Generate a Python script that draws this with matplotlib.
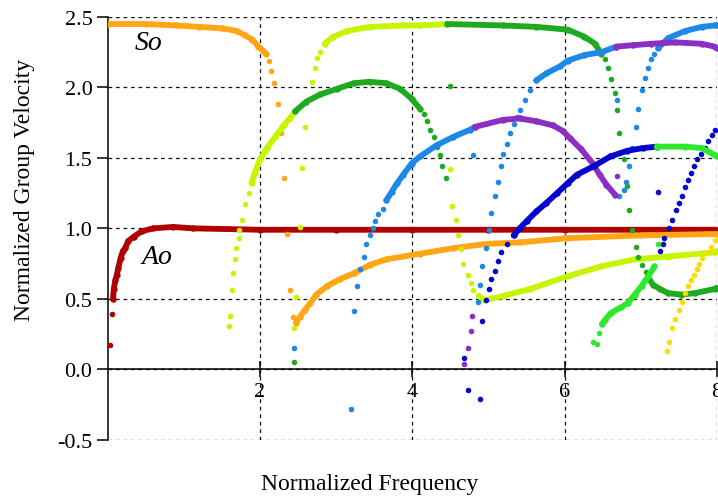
import matplotlib
matplotlib.use("Agg")
import matplotlib.pyplot as plt

plt.rcParams['font.family'] = ['Liberation Serif', 'DejaVu Serif']

# ---------------- data ----------------
# colours
C_RED = "#B00000"
C_ORANGE = "#FFA614"
C_YG = "#C6F500"
C_GREEN = "#1FA91F"
C_BLUE = "#1E88E8"
C_PURPLE = "#8A2EC4"
C_DBLUE = "#0505CC"
C_BGREEN = "#2EE82E"
C_YELLOW = "#FFDC00"

# A0 (dark red)
red_sparse_x = [0.03, 0.05, 0.07]
red_sparse_y = [0.17, 0.39, 0.50]
red_x = [0.07, 0.08, 0.10, 0.12, 0.14, 0.17, 0.20, 0.23, 0.27, 0.34, 0.45, 0.60, 0.86, 1.12, 2.0, 3.0, 4.0, 5.0, 6.0, 7.0, 8.0]
red_y = [0.50, 0.57, 0.63, 0.67, 0.72, 0.79, 0.84, 0.86, 0.91, 0.94, 0.98, 1.00, 1.01, 1.00, 0.99, 0.99, 0.99, 0.99, 0.99, 0.99, 0.99]

# S0 (orange)
orange_top_x = [0.0, 0.5, 0.9, 1.2, 1.5, 1.7, 1.8, 1.9, 1.98, 2.04, 2.08]
orange_top_y = [2.45, 2.45, 2.44, 2.43, 2.42, 2.40, 2.37, 2.34, 2.29, 2.26, 2.24]
orange_drop_x = [2.12, 2.15, 2.18, 2.24, 2.28, 2.31, 2.35, 2.39, 2.43]
orange_drop_y = [2.19, 2.12, 2.03, 1.88, 1.68, 1.36, 0.96, 0.56, 0.37]
orange_low_x = [2.47, 2.52, 2.59, 2.66, 2.74, 2.88, 3.05, 3.23, 3.44, 3.66, 4.10, 4.54, 4.98, 5.41, 6.03, 7.0, 8.0]
orange_low_y = [0.33, 0.37, 0.42, 0.47, 0.53, 0.59, 0.64, 0.68, 0.74, 0.78, 0.82, 0.86, 0.89, 0.90, 0.93, 0.95, 0.96]

# yellow-green
yg_rise_x = [1.59, 1.61, 1.63, 1.64, 1.67, 1.69, 1.72, 1.73, 1.76, 1.80, 1.85, 1.89]
yg_rise_y = [0.31, 0.38, 0.56, 0.68, 0.78, 0.86, 0.93, 0.99, 1.06, 1.17, 1.25, 1.32]
yg_rise_dense_x = [1.89, 1.93, 2.00, 2.07, 2.09, 2.20, 2.31, 2.39, 2.46]
yg_rise_dense_y = [1.32, 1.39, 1.49, 1.55, 1.57, 1.65, 1.73, 1.78, 1.83]
yg_top_sparse_x = [2.59, 2.68, 2.72, 2.75, 2.79, 2.85]
yg_top_sparse_y = [1.72, 2.04, 2.14, 2.21, 2.25, 2.31]
yg_top_x = [2.85, 2.96, 3.14, 3.44, 3.88, 4.10, 4.46]
yg_top_y = [2.31, 2.36, 2.40, 2.43, 2.44, 2.44, 2.45]
yg_low_sparse_x = [4.49, 4.52, 4.57, 4.60, 4.64, 4.67, 4.73, 4.77, 4.80, 4.87]
yg_low_sparse_y = [1.42, 1.16, 1.06, 0.95, 0.85, 0.75, 0.67, 0.61, 0.56, 0.52]
yg_low_x = [4.87, 4.95, 5.19, 5.55, 6.04, 6.48, 6.92, 7.36, 7.97, 8.0]
yg_low_y = [0.52, 0.49, 0.52, 0.57, 0.66, 0.73, 0.78, 0.80, 0.83, 0.84]
yg_iso_x = [2.52, 2.55, 2.47, 2.44]
yg_iso_y = [1.01, 1.43, 0.51, 0.29]

# green
g_hump_x = [2.46, 2.61, 2.79, 3.01, 3.23, 3.44, 3.66, 3.84, 3.99, 4.10]
g_hump_y = [1.83, 1.90, 1.95, 1.99, 2.03, 2.04, 2.03, 1.99, 1.92, 1.85]
g_fall_x = [4.15, 4.19, 4.23, 4.28, 4.32, 4.36, 4.39, 4.44]
g_fall_y = [1.81, 1.76, 1.70, 1.65, 1.58, 1.52, 1.44, 1.36]
g_top_x = [4.46, 5.19, 5.63, 6.04, 6.26, 6.40, 6.48]
g_top_y = [2.45, 2.44, 2.43, 2.41, 2.36, 2.31, 2.24]
g_drop_x = [6.53, 6.57, 6.61, 6.66, 6.69, 6.72, 6.78, 6.85, 6.89, 6.94, 6.97, 7.01, 7.07]
g_drop_y = [2.20, 2.14, 2.06, 1.96, 1.84, 1.68, 1.49, 1.13, 0.99, 0.87, 0.80, 0.74, 0.69]
g_tail_x = [7.10, 7.16, 7.25, 7.36, 7.53, 7.71, 7.97, 8.0]
g_tail_y = [0.65, 0.60, 0.57, 0.54, 0.53, 0.54, 0.57, 0.58]
g_iso_x = [4.49, 2.44, 6.82]
g_iso_y = [2.01, 0.05, 1.30]

# light blue
b1_sparse_x = [3.24, 3.27, 3.31, 3.36, 3.39, 3.44, 3.48, 3.51, 3.55, 3.61, 3.66]
b1_sparse_y = [0.41, 0.59, 0.71, 0.80, 0.89, 0.95, 1.00, 1.05, 1.10, 1.14, 1.20]
b1_x = [3.66, 3.73, 3.80, 3.88, 3.99, 4.10, 4.32, 4.54, 4.76, 4.82]
b1_y = [1.20, 1.26, 1.32, 1.38, 1.46, 1.51, 1.59, 1.65, 1.70, 1.72]
b2_sparse_x = [6.72, 6.78, 6.81, 6.85, 6.89, 6.94, 6.97, 7.01, 7.06, 7.10, 7.13, 7.18, 7.23]
b2_sparse_y = [1.23, 1.27, 1.33, 1.44, 1.57, 1.72, 1.85, 1.98, 2.07, 2.14, 2.20, 2.24, 2.28]
b2_x = [7.23, 7.36, 7.58, 7.80, 7.97, 8.0]
b2_y = [2.28, 2.35, 2.40, 2.43, 2.44, 2.44]
b3_sparse_x = [4.86, 4.89, 4.92, 4.97, 5.01, 5.04, 5.09, 5.13, 5.16, 5.19, 5.25, 5.28, 5.33, 5.37, 5.41, 5.48, 5.55, 5.63]
b3_sparse_y = [0.48, 0.60, 0.73, 0.86, 0.99, 1.11, 1.23, 1.33, 1.44, 1.53, 1.60, 1.68, 1.74, 1.79, 1.84, 1.91, 1.98, 2.05]
b3_x = [5.63, 5.76, 5.94, 6.04, 6.26, 6.48, 6.68]
b3_y = [2.05, 2.10, 2.15, 2.19, 2.23, 2.25, 2.29]
b_iso_x = [3.20, 2.44, 4.80, 6.69]
b_iso_y = [-0.28, 0.15, 1.52, 1.91]

# purple
p1_x = [4.82, 5.19, 5.41, 5.63, 5.85, 5.98, 6.07, 6.22, 6.37, 6.46, 6.55, 6.66]
p1_y = [1.72, 1.77, 1.78, 1.76, 1.73, 1.69, 1.64, 1.56, 1.46, 1.38, 1.31, 1.24]
p2_x = [6.68, 6.90, 7.14, 7.45, 7.80, 7.97, 8.0]
p2_y = [2.29, 2.30, 2.31, 2.32, 2.31, 2.29, 2.28]
p_low_x = [4.68, 4.73, 4.77, 4.79, 6.69]
p_low_y = [0.04, 0.15, 0.27, 0.38, 1.37]

# dark blue
db1_sparse_x = [4.92, 4.97, 5.01, 5.04, 5.08, 5.13, 5.17, 5.24, 5.33]
db1_sparse_y = [0.34, 0.49, 0.57, 0.64, 0.70, 0.77, 0.83, 0.89, 0.95]
db1_x = [5.33, 5.41, 5.50, 5.63, 5.76, 5.90, 6.04, 6.16, 6.38, 6.60, 6.82, 7.03, 7.21]
db1_y = [0.95, 1.00, 1.05, 1.12, 1.18, 1.25, 1.32, 1.38, 1.44, 1.51, 1.55, 1.57, 1.58]
db2_x = [7.25, 7.29, 7.31, 7.37, 7.41, 7.46, 7.50, 7.54, 7.58, 7.62, 7.66, 7.70, 7.74, 7.79, 7.84, 7.88, 7.94, 7.97]
db2_y = [0.84, 0.89, 0.93, 1.00, 1.06, 1.13, 1.18, 1.23, 1.29, 1.34, 1.39, 1.44, 1.49, 1.53, 1.57, 1.62, 1.66, 1.70]
db_iso_x = [4.68, 4.73, 4.89, 7.22]
db_iso_y = [0.08, -0.15, -0.21, 1.26]

# bright green
bg_top_x = [7.21, 7.58, 7.80, 7.97, 8.0]
bg_top_y = [1.58, 1.58, 1.57, 1.52, 1.51]
bg_rise_sparse_x = [6.37, 6.42, 6.45, 6.49]
bg_rise_sparse_y = [0.19, 0.18, 0.26, 0.32]
bg_rise_x = [6.49, 6.53, 6.61, 6.74, 6.83, 6.92, 7.01, 7.06, 7.10, 7.18]
bg_rise_y = [0.32, 0.35, 0.40, 0.44, 0.47, 0.53, 0.59, 0.63, 0.66, 0.73]
bg_iso_x = [7.22]
bg_iso_y = [0.89]

# yellow
ye_x = [7.34, 7.37, 7.41, 7.45, 7.50, 7.54, 7.58, 7.62, 7.66, 7.70, 7.74, 7.77, 7.81, 7.87, 7.92, 7.97]
ye_y = [0.13, 0.19, 0.29, 0.36, 0.42, 0.48, 0.54, 0.59, 0.63, 0.67, 0.71, 0.75, 0.79, 0.83, 0.87, 0.92]

x_ticks = [2, 4, 6, 8]
x_ticklabels = ["2", "4", "6", "8"]
y_ticks = [-0.5, 0.0, 0.5, 1.0, 1.5, 2.0, 2.5]
y_ticklabels = ["-0.5", "0.0", "0.5", "1.0", "1.5", "2.0", "2.5"]

# ---------------- drawing ----------------
W, H = 718, 502
fig = plt.figure(figsize=(W / 100, H / 100), dpi=100)
x0, x1 = 107.7, 716.9
y0, y1 = 18.0, 440.7
ax = fig.add_axes([x0 / W, 1 - y1 / H, (x1 - x0) / W, (y1 - y0) / H])
ax.set_xlim(0, 8)
ax.set_ylim(-0.5, 2.5)

MS = 4.0
LW = 4.2

def dots(x, y, c, z=3):
    ax.plot(x, y, ls='none', marker='o', ms=MS, mfc=c, mec=c, mew=0, zorder=z)

def dense(x, y, c, z=3):
    ax.plot(x, y, ls='-', lw=LW, color=c, marker='o', ms=MS + 0.6, mfc=c, mec=c, mew=0,
            solid_capstyle='round', solid_joinstyle='round', zorder=z)

dots(red_sparse_x, red_sparse_y, C_RED, 3)
dense(red_x, red_y, C_RED, 3)

dense(orange_top_x, orange_top_y, C_ORANGE, 3.1)
dots(orange_drop_x, orange_drop_y, C_ORANGE, 3.1)
dense(orange_low_x, orange_low_y, C_ORANGE, 3.1)

dots(yg_rise_x, yg_rise_y, C_YG, 3.2)
dense(yg_rise_dense_x, yg_rise_dense_y, C_YG, 3.2)
dots(yg_top_sparse_x, yg_top_sparse_y, C_YG, 3.2)
dense(yg_top_x, yg_top_y, C_YG, 3.2)
dots(yg_low_sparse_x, yg_low_sparse_y, C_YG, 3.2)
dense(yg_low_x, yg_low_y, C_YG, 3.2)
dots(yg_iso_x, yg_iso_y, C_YG, 3.2)

dense(g_hump_x, g_hump_y, C_GREEN, 3.3)
dots(g_fall_x, g_fall_y, C_GREEN, 3.3)
dense(g_top_x, g_top_y, C_GREEN, 3.3)
dots(g_drop_x, g_drop_y, C_GREEN, 3.3)
dense(g_tail_x, g_tail_y, C_GREEN, 3.3)
dots(g_iso_x, g_iso_y, C_GREEN, 3.3)

dots(b1_sparse_x, b1_sparse_y, C_BLUE, 3.4)
dense(b1_x, b1_y, C_BLUE, 3.4)
dots(b2_sparse_x, b2_sparse_y, C_BLUE, 3.4)
dense(b2_x, b2_y, C_BLUE, 3.4)
dots(b3_sparse_x, b3_sparse_y, C_BLUE, 3.4)
dense(b3_x, b3_y, C_BLUE, 3.4)
dots(b_iso_x, b_iso_y, C_BLUE, 3.4)

dense(p1_x, p1_y, C_PURPLE, 3.5)
dense(p2_x, p2_y, C_PURPLE, 3.5)
dots(p_low_x, p_low_y, C_PURPLE, 3.5)

dots(db1_sparse_x, db1_sparse_y, C_DBLUE, 3.6)
dense(db1_x, db1_y, C_DBLUE, 3.6)
dots(db2_x, db2_y, C_DBLUE, 3.6)
dots(db_iso_x, db_iso_y, C_DBLUE, 3.6)

dense(bg_top_x, bg_top_y, C_BGREEN, 3.7)
dots(bg_rise_sparse_x, bg_rise_sparse_y, C_BGREEN, 3.7)
dense(bg_rise_x, bg_rise_y, C_BGREEN, 3.7)
dots(bg_iso_x, bg_iso_y, C_BGREEN, 3.7)

dots(ye_x, ye_y, C_YELLOW, 3.8)

# axes styling
for s in ['top', 'right']:
    ax.spines[s].set_visible(False)
ax.spines['bottom'].set_position(('data', 0))
ax.spines['bottom'].set_linewidth(1.1)
ax.spines['left'].set_linewidth(1.1)
ax.spines['bottom'].set_zorder(2)

ax.set_xticks(x_ticks)
ax.set_xticklabels(x_ticklabels)
ax.set_yticks(y_ticks)
ax.set_yticklabels(y_ticklabels)
ax.tick_params(axis='x', direction='inout', length=11, width=1.1, labelsize=16, pad=4)
ax.tick_params(axis='y', direction='out', length=8, width=1.1, labelsize=16, pad=3)

ax.grid(True, ls=(0, (3, 3)), color='#111111', lw=0.9, zorder=1)
ax.set_axisbelow(True)

ax.text(0.54, 2.32, 'So', fontsize=20, style='italic', ha='center', va='center', zorder=5)
ax.text(0.65, 0.80, 'Ao', fontsize=20, style='italic', ha='center', va='center', zorder=5)

fig.text(25 / W, 1 - 190 / H, 'Normalized Group Velocity', rotation=90, fontsize=17,
         ha='center', va='center')
fig.text(370 / W, 1 - 485 / H, 'Normalized Frequency', fontsize=17, ha='center', va='center')

fig.savefig('out.png', dpi=100)
